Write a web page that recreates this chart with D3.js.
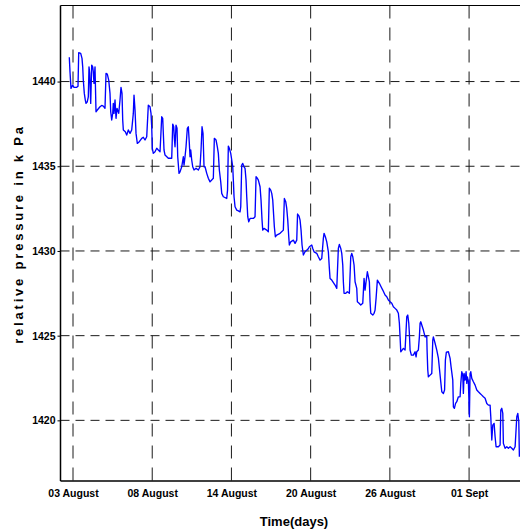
<!DOCTYPE html>
<html><head><meta charset="utf-8">
<script src="https://cdn.jsdelivr.net/npm/d3@7/dist/d3.min.js"></script>
<style>body{margin:0;background:#fff}svg{display:block}</style>
</head><body>
<svg id="c" width="520" height="532"></svg>
<script>
const tickLabels = ["03 August","08 August","14 August","20 August","26 August","01 Sept"];
const tickDays = [0,6,12,18,24,30];
const yTicks = [1420,1425,1430,1435,1440];
const days = [
-0.280,-0.227,-0.152,-0.023,0.076,0.280,0.379,0.432,0.583,0.682,
0.735,0.780,0.856,0.932,0.985,1.083,1.159,1.212,1.265,1.341,
1.417,1.492,1.538,1.591,1.667,1.742,1.841,2.045,2.174,2.295,
2.424,2.500,2.598,2.705,2.803,2.856,2.932,3.008,3.053,3.106,
3.182,3.258,3.333,3.462,3.561,3.636,3.712,3.765,3.811,3.962,
4.068,4.189,4.318,4.447,4.568,4.621,4.697,4.773,4.871,5.023,
5.205,5.326,5.455,5.583,5.705,5.833,5.909,5.962,6.008,6.083,
6.212,6.341,6.462,6.591,6.720,6.795,6.841,6.894,6.970,7.220,
7.477,7.553,7.629,7.674,7.727,7.803,7.879,7.932,8.030,8.106,
8.235,8.356,8.409,8.485,8.561,8.659,8.735,8.811,8.864,8.917,
8.992,9.068,9.167,9.318,9.492,9.621,9.697,9.773,9.848,9.924,
10.000,10.129,10.250,10.379,10.629,10.705,10.833,10.932,11.008,11.083,
11.189,11.265,11.386,11.644,11.705,11.765,11.841,11.947,12.023,12.098,
12.144,12.197,12.273,12.402,12.523,12.652,12.705,12.780,12.856,12.955,
13.030,13.106,13.159,13.235,13.311,13.409,13.659,13.788,13.864,13.962,
14.038,14.167,14.242,14.318,14.371,14.470,14.674,14.795,14.871,14.977,
15.053,15.129,15.174,15.250,15.326,15.432,15.682,15.932,16.008,16.114,
16.189,16.265,16.341,16.386,16.492,16.689,16.818,16.947,17.008,17.121,
17.197,17.273,17.348,17.447,17.576,17.803,17.902,18.083,18.159,18.258,
18.462,18.583,18.712,18.841,18.962,19.015,19.114,19.220,19.341,19.417,
19.470,19.598,19.848,19.977,20.098,20.174,20.280,20.356,20.432,20.477,
20.530,20.659,20.780,20.932,21.038,21.114,21.189,21.288,21.364,21.492,
21.538,21.667,21.795,21.947,22.045,22.121,22.197,22.295,22.371,22.447,
22.500,22.553,22.705,22.803,22.879,22.955,23.053,23.205,23.333,23.462,
23.636,23.765,23.886,24.015,24.144,24.265,24.394,24.523,24.644,24.720,
24.773,24.826,24.924,25.023,25.152,25.280,25.356,25.432,25.477,25.530,
25.629,25.780,25.909,25.985,26.038,26.159,26.235,26.288,26.341,26.417,
26.538,26.667,26.795,26.818,26.871,26.917,27.045,27.174,27.250,27.295,
27.424,27.553,27.674,27.803,27.932,28.053,28.144,28.205,28.280,28.432,
28.561,28.636,28.765,28.811,28.886,28.977,29.068,29.189,29.318,29.371,
29.447,29.523,29.568,29.621,29.697,29.773,29.826,29.871,29.947,30.023,
30.076,30.129,30.205,30.326,30.455,30.583,30.705,30.833,30.962,31.083,
31.212,31.341,31.462,31.591,31.644,31.720,31.795,31.894,31.970,32.045,
32.220,32.348,32.402,32.477,32.553,32.598,32.727,32.856,32.977,33.106,
33.235,33.356,33.485,33.614,33.689,33.765,33.811];
const pressure = [
1441.43,1440.56,1439.60,1439.79,1439.66,1439.66,1439.73,1441.70,1441.66,1441.37,
1440.87,1440.09,1439.30,1438.91,1438.71,1438.81,1439.10,1440.87,1440.48,1438.71,
1440.97,1440.87,1440.58,1439.89,1440.87,1438.22,1438.32,1438.51,1438.59,1438.55,
1438.42,1440.48,1440.44,1440.09,1439.30,1438.22,1437.73,1438.12,1438.71,1438.12,
1438.91,1437.83,1438.42,1438.12,1438.91,1439.66,1439.30,1437.73,1437.14,1437.04,
1436.84,1437.14,1436.94,1437.14,1438.12,1439.20,1438.32,1436.94,1436.35,1436.45,
1436.65,1436.71,1436.55,1436.74,1438.61,1438.51,1438.12,1437.33,1436.06,1435.76,
1435.86,1436.06,1435.96,1435.86,1437.92,1437.83,1436.94,1435.96,1435.66,1435.47,
1435.47,1437.49,1437.33,1436.65,1436.15,1437.43,1437.24,1435.56,1434.58,1434.67,
1434.97,1435.56,1435.07,1435.56,1436.15,1437.24,1437.33,1436.35,1435.56,1435.96,
1435.37,1434.97,1434.78,1434.88,1434.78,1434.97,1435.96,1437.33,1436.94,1434.97,
1434.97,1434.58,1434.29,1434.08,1434.29,1436.65,1436.55,1436.15,1435.76,1434.78,
1434.08,1433.40,1433.20,1433.10,1433.59,1436.19,1436.06,1435.76,1435.37,1434.97,
1434.18,1433.20,1432.61,1432.41,1432.37,1432.31,1432.61,1435.07,1435.17,1434.97,
1434.88,1434.18,1433.20,1432.02,1431.72,1431.92,1431.92,1432.02,1434.38,1434.29,
1434.18,1433.79,1433.00,1431.82,1431.23,1431.33,1431.23,1431.13,1433.70,1433.59,
1433.40,1433.00,1432.41,1431.43,1430.84,1430.94,1431.04,1431.23,1433.10,1432.90,
1432.51,1431.82,1430.84,1430.35,1430.54,1430.64,1430.45,1430.64,1432.18,1432.06,
1431.82,1431.23,1430.35,1429.76,1429.95,1430.11,1430.25,1430.35,1430.15,1429.95,
1429.86,1429.66,1429.46,1429.56,1430.74,1431.04,1430.84,1430.54,1429.95,1428.97,
1428.38,1428.28,1427.99,1427.79,1430.15,1430.39,1430.15,1429.86,1429.17,1428.18,
1427.50,1427.50,1427.59,1427.50,1429.66,1429.86,1429.66,1429.17,1428.18,1427.79,
1427.00,1426.91,1426.81,1426.91,1428.38,1427.69,1428.18,1428.77,1428.48,1428.18,
1427.00,1426.32,1426.22,1426.32,1426.51,1427.20,1428.28,1428.09,1427.89,1427.69,
1427.40,1427.30,1427.10,1427.00,1426.91,1426.71,1426.61,1426.51,1426.32,1425.73,
1424.93,1424.05,1424.15,1424.25,1424.15,1426.12,1426.22,1425.73,1425.14,1424.15,
1423.85,1423.85,1424.05,1423.75,1424.05,1424.15,1424.93,1425.73,1425.82,1425.63,
1425.33,1424.93,1424.98,1424.15,1422.97,1422.57,1422.67,1422.77,1424.74,1424.93,
1424.55,1424.15,1423.68,1422.67,1421.69,1421.59,1421.79,1423.56,1424.03,1424.05,
1423.66,1423.16,1422.38,1420.80,1420.71,1421.00,1421.10,1421.39,1421.39,1422.18,
1422.87,1422.67,1421.59,1422.77,1422.38,1422.87,1422.18,1422.57,1422.28,1420.21,
1422.77,1422.87,1422.48,1422.28,1422.08,1421.79,1421.69,1421.59,1421.49,1421.39,
1421.30,1421.00,1420.90,1420.90,1420.21,1418.84,1419.72,1419.82,1419.03,1418.44,
1418.44,1418.54,1420.61,1420.71,1420.41,1418.64,1418.35,1418.44,1418.35,1418.44,
1418.35,1418.25,1418.44,1420.21,1420.41,1419.92,1417.85];

const svg = d3.select("#c");
const L = 60.5, T = 5.5, R = 521.5, B = 481;
const x = d3.scaleLinear().domain([-0.947, 33.97]).range([L, R]);
const y = d3.scaleLinear().domain([1416.42, 1444.49]).range([B, T]);
const font = "'Liberation Sans', Arial, sans-serif";

// grid
const g = svg.append("g");
g.selectAll("line.hg").data(yTicks).join("line")
  .attr("x1", L).attr("x2", R).attr("y1", d => y(d)).attr("y2", d => y(d))
  .attr("stroke", "#1a1a1a").attr("stroke-width", 1).attr("stroke-dasharray", "9,6");
g.selectAll("line.vg").data(tickDays).join("line")
  .attr("x1", d => x(d)).attr("x2", d => x(d)).attr("y1", T).attr("y2", B)
  .attr("stroke", "#1a1a1a").attr("stroke-width", 1).attr("stroke-dasharray", "13,9");

// data line
const line = d3.line().x((d,i) => x(days[i])).y((d,i) => y(pressure[i]));
svg.append("path").datum(pressure).attr("d", line)
  .attr("fill", "none").attr("stroke", "#0000ff").attr("stroke-width", 1.35)
  .attr("stroke-linejoin", "round");

// axes
const yAxis = d3.axisLeft(y).tickValues(yTicks).tickSize(3).tickPadding(2).tickFormat(d3.format("d"));
const ya = svg.append("g").attr("transform", `translate(${L},0)`).call(yAxis);
ya.select(".domain").remove();
ya.selectAll("text").attr("font-family", font).attr("font-weight", "bold").attr("font-size", "10.5px").attr("fill", "#000");
ya.selectAll("line").attr("stroke", "#000");

const xAxis = d3.axisBottom(x).tickValues(tickDays).tickSize(0).tickPadding(9).tickFormat((d,i) => tickLabels[i]);
const xa = svg.append("g").attr("transform", `translate(0,${B})`).call(xAxis);
xa.select(".domain").remove();
xa.selectAll("text").attr("font-family", font).attr("font-weight", "bold").attr("font-size", "10.5px").attr("fill", "#000");

// frame
svg.append("line").attr("x1", L).attr("x2", L).attr("y1", T).attr("y2", B).attr("stroke", "#000").attr("stroke-width", 1.5);
svg.append("line").attr("x1", L).attr("x2", R).attr("y1", B).attr("y2", B).attr("stroke", "#000").attr("stroke-width", 1.5);
svg.append("line").attr("x1", L).attr("x2", R).attr("y1", T).attr("y2", T).attr("stroke", "#000").attr("stroke-width", 1.2);

// titles
svg.append("text").attr("x", 294).attr("y", 526).attr("text-anchor", "middle")
  .attr("font-family", font).attr("font-weight", "bold").attr("font-size", "13px").text("Time(days)");
svg.append("text").attr("transform", "translate(23,234) rotate(-90)").attr("text-anchor", "middle")
  .attr("font-family", font).attr("font-weight", "bold").attr("font-size", "13px")
  .attr("letter-spacing", "2.8px").text("relative pressure in k Pa");
</script>
</body></html>
